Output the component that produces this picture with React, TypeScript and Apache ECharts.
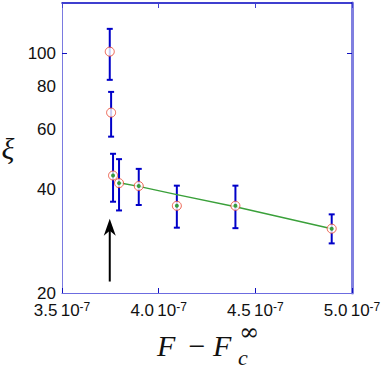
import React, { useEffect, useRef } from "react";
import * as echarts from "echarts";

// x values in units of 1e-7
const xTicks = [3.5, 4.0, 4.5, 5.0];
const xValues = [3.747, 3.754, 3.764, 3.795, 3.897, 4.094, 4.397, 4.895];
const xiValues = [101, 67.1, 44.0, 41.8, 41.0, 35.9, 35.9, 30.8];
const errUpper = [117.7, 77.1, 50.9, 49.1, 46.0, 41.1, 41.1, 33.9];
const errLower = [83.6, 57.1, 36.9, 34.8, 36.1, 31.0, 30.9, 27.9];
const inFit = [false, false, true, true, true, true, true, true];
const fitX = [3.795, 3.897, 4.094, 4.397, 4.895];
const fitY = [41.9, 40.9, 38.7, 35.7, 30.8];
const yTickLabels = [20, 40, 60, 80, 100];
const yTickMarks = [100];
const arrowX = [3.747];
const arrowFrom = [21.6];
const arrowTo = [32.9];

const LABEL_FONT = '"Liberation Sans", Arial, sans-serif';
const MATH_FONT = '"Liberation Serif", "Times New Roman", serif';

export default function App() {
  const ref = useRef<HTMLDivElement>(null);
  useEffect(() => {
    if (!ref.current) return;
    const chart = echarts.init(ref.current, null, { renderer: "svg" });
    const errData = xValues.map((x, i) => [x, errLower[i], errUpper[i]]);
    const ptData = xValues.map((x, i) => [x, xiValues[i]]);
    const fitPts = xValues
      .map((x, i) => (inFit[i] ? [x, xiValues[i]] : null))
      .filter((d) => d !== null);
    const fitLine = fitX.map((x, i) => [x, fitY[i]]);
    const arrowData = arrowX.map((x, i) => [x, arrowFrom[i], arrowTo[i]]);

    const option: any = {
      animation: false,
      backgroundColor: "#ffffff",
      grid: { left: 62, right: 38, top: 3, bottom: 75, containLabel: false },
      xAxis: [
        {
          type: "value",
          position: "bottom",
          min: xTicks[0],
          max: xTicks[xTicks.length - 1],
          interval: 0.5,
          axisLine: { show: true, lineStyle: { color: "#6c6ce0", width: 1 } },
          axisTick: { show: true, inside: true, length: 5, lineStyle: { color: "#1010c0", width: 1 } },
          splitLine: { show: false },
          axisLabel: {
            margin: 8,
            formatter: (v: number) => `{a|${v.toFixed(1)}} {b|10}{c|-7}`,
            rich: {
              a: { fontSize: 17, fontFamily: LABEL_FONT, color: "#111", lineHeight: 18, verticalAlign: "bottom" },
              b: { fontSize: 17, fontFamily: LABEL_FONT, color: "#111", lineHeight: 18, verticalAlign: "bottom" },
              c: { fontSize: 12, fontFamily: LABEL_FONT, color: "#111", lineHeight: 12, verticalAlign: "top" },
            },
          },
        },
        {
          type: "value",
          position: "top",
          min: xTicks[0],
          max: xTicks[xTicks.length - 1],
          interval: 0.5,
          axisLine: { show: true, lineStyle: { color: "#0000c0", width: 1.5 } },
          axisTick: { show: true, inside: true, length: 5, lineStyle: { color: "#4040d0", width: 1 } },
          axisLabel: { show: false },
          splitLine: { show: false },
        },
      ],
      yAxis: [
        {
          type: "log",
          logBase: 10,
          position: "left",
          min: 20,
          max: 140,
          axisLine: { show: true, lineStyle: { color: "#7a7ae0", width: 1 } },
          axisTick: {
            show: true,
            inside: true,
            length: 5,
            customValues: yTickMarks,
            lineStyle: { color: "#1010c0", width: 1 },
          },
          minorTick: { show: false },
          splitLine: { show: false },
          axisLabel: {
            customValues: yTickLabels,
            fontSize: 17,
            fontFamily: LABEL_FONT,
            color: "#111",
            margin: 6,
            showMinLabel: true,
            showMaxLabel: true,
          },
        },
        {
          type: "log",
          logBase: 10,
          position: "right",
          min: 20,
          max: 140,
          axisLine: { show: true, lineStyle: { color: "#8080e0", width: 3 } },
          axisTick: {
            show: true,
            inside: true,
            length: 5,
            customValues: yTickMarks,
            lineStyle: { color: "#1010c0", width: 1 },
          },
          axisLabel: { show: false },
          splitLine: { show: false },
        },
      ],
      series: [
        {
          type: "custom",
          name: "errorbars",
          xAxisIndex: 0,
          yAxisIndex: 0,
          data: errData,
          encode: { x: 0, y: [1, 2] },
          z: 2,
          renderItem: (params: any, api: any) => {
            const x = api.value(0);
            const lo = api.coord([x, api.value(1)]);
            const hi = api.coord([x, api.value(2)]);
            const cw = 3;
            const st = { stroke: "#0000c8", lineWidth: 2 };
            return {
              type: "group",
              children: [
                { type: "line", shape: { x1: lo[0], y1: lo[1], x2: hi[0], y2: hi[1] }, style: st },
                { type: "line", shape: { x1: lo[0] - cw, y1: lo[1], x2: lo[0] + cw, y2: lo[1] }, style: st },
                { type: "line", shape: { x1: hi[0] - cw, y1: hi[1], x2: hi[0] + cw, y2: hi[1] }, style: st },
              ],
            };
          },
        },
        {
          type: "line",
          name: "fit",
          xAxisIndex: 0,
          yAxisIndex: 0,
          data: fitLine,
          showSymbol: false,
          symbol: "none",
          lineStyle: { color: "#3aa03a", width: 1.5 },
          z: 3,
        },
        {
          type: "scatter",
          name: "xi",
          xAxisIndex: 0,
          yAxisIndex: 0,
          data: ptData,
          symbol: "circle",
          symbolSize: 9,
          itemStyle: { color: "#ffffff", borderColor: "#e8402a", borderWidth: 1 },
          z: 4,
        },
        {
          type: "scatter",
          name: "fitpts",
          xAxisIndex: 0,
          yAxisIndex: 0,
          data: fitPts,
          symbol: "circle",
          symbolSize: 4,
          itemStyle: { color: "#108a10" },
          z: 5,
        },
        {
          type: "custom",
          name: "arrow",
          xAxisIndex: 0,
          yAxisIndex: 0,
          data: arrowData,
          encode: { x: 0, y: [1, 2] },
          z: 6,
          renderItem: (params: any, api: any) => {
            const x = api.value(0);
            const b = api.coord([x, api.value(1)]);
            const t = api.coord([x, api.value(2)]);
            return {
              type: "group",
              children: [
                {
                  type: "line",
                  shape: { x1: b[0], y1: b[1], x2: t[0], y2: t[1] + 8 },
                  style: { stroke: "#000", lineWidth: 2 },
                },
                {
                  type: "polygon",
                  shape: {
                    points: [
                      [t[0], t[1]],
                      [t[0] - 6, t[1] + 17],
                      [t[0], t[1] + 12],
                      [t[0] + 6, t[1] + 17],
                    ],
                  },
                  style: { fill: "#000" },
                },
              ],
            };
          },
        },
      ],
      graphic: [
        {
          type: "text",
          x: 8,
          y: 148,
          style: { text: "ξ", font: `italic 30px ${MATH_FONT}`, fill: "#111", align: "center", verticalAlign: "middle" },
        },
        {
          type: "text",
          x: 157,
          y: 345,
          style: { text: "F", font: `italic 30px ${MATH_FONT}`, fill: "#111", align: "left", verticalAlign: "middle" },
        },
        {
          type: "text",
          x: 197,
          y: 345,
          style: { text: "−", font: `30px ${MATH_FONT}`, fill: "#111", align: "center", verticalAlign: "middle" },
        },
        {
          type: "text",
          x: 213,
          y: 345,
          style: { text: "F", font: `italic 30px ${MATH_FONT}`, fill: "#111", align: "left", verticalAlign: "middle" },
        },
        {
          type: "text",
          x: 239,
          y: 332,
          style: {
            text: "∞",
            font: `24px "DejaVu Serif", ${MATH_FONT}`,
            lineHeight: 14,
            fill: "#111",
            align: "left",
            verticalAlign: "middle",
          },
        },
        {
          type: "text",
          x: 238,
          y: 357,
          style: {
            text: "c",
            font: `italic 22px ${MATH_FONT}`,
            fill: "#111",
            align: "left",
            verticalAlign: "middle",
          },
        },
      ],
    };
    chart.setOption(option);
    return () => chart.dispose();
  }, []);
  return (
    <div
      ref={ref}
      style={{ position: "fixed", left: 0, top: 0, width: 390, height: 368, background: "#fff" }}
    />
  );
}
